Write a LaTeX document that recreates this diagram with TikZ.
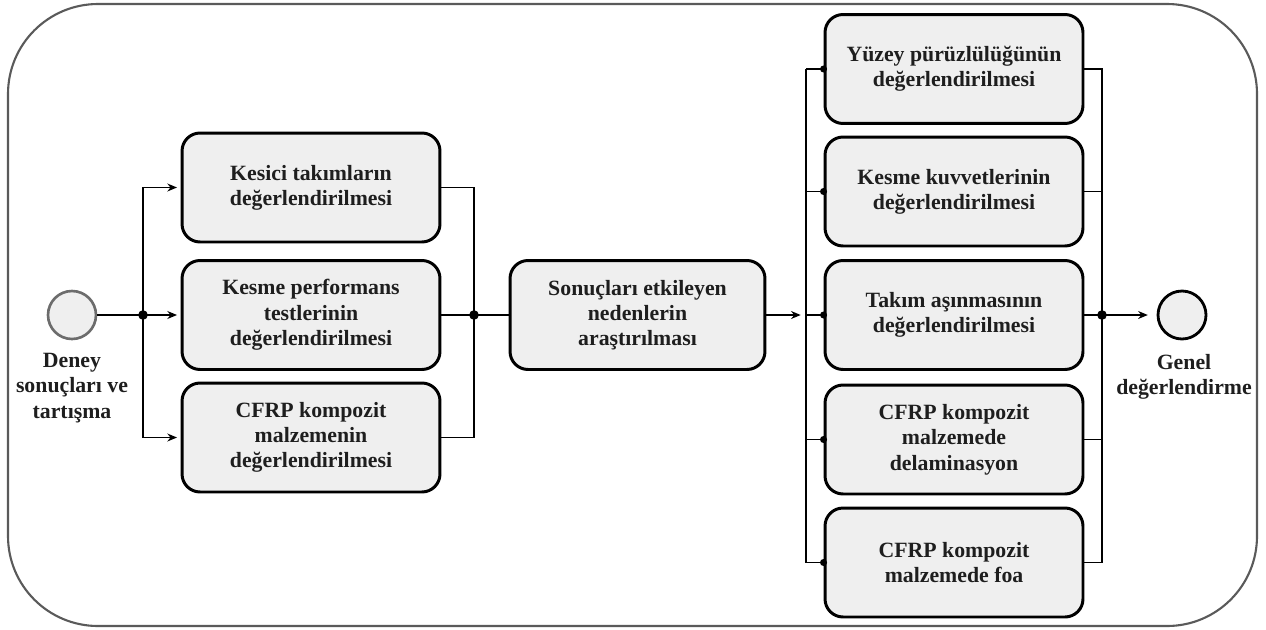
\documentclass[tikz,border=0pt]{standalone}
\usepackage{fontspec}
\setmainfont{Liberation Serif}[BoldFont={Liberation Serif Bold}]
\newfontfamily\tnrb{Liberation Serif Bold}
\usetikzlibrary{arrows.meta}
\definecolor{boxfill}{HTML}{EFEFEF}
\definecolor{framegray}{HTML}{5A5A5A}
\definecolor{txt}{HTML}{1E1E1E}
\tikzset{
  pbox/.style={draw=black, line width=1.7pt, fill=boxfill, rounded corners=0.36cm,
    minimum width=5.16cm, minimum height=2.18cm, align=center, text=txt,
    font=\tnrb\fontsize{12.4}{14.4}\selectfont, inner sep=0pt},
  conn/.style={draw=black, line width=0.85pt},
  arr/.style={conn, -{Stealth[length=5.5pt,width=4.5pt]}},
  jdot/.style={circle, fill=black, inner sep=0pt, minimum size=5.5pt},
  sdot/.style={circle, fill=black, inner sep=0pt, minimum size=4pt},
  lbl/.style={align=center, text=txt, font=\tnrb\fontsize{12.4}{14.4}\selectfont, inner sep=0pt},
}
\begin{document}
\begin{tikzpicture}[x=0.02cm, y=-0.02cm]
\useasboundingbox (0,0) rectangle (1266,629);
% outer frame
\draw[framegray, line width=1.2pt, rounded corners=1.8cm] (8,4) rectangle (1257,626);

% start / end events
\node[circle, draw=gray!85!black, line width=1.5pt, fill=boxfill, minimum size=0.96cm, inner sep=0pt] (start) at (72,315) {};
\node[lbl, anchor=north] (startlbl) at (72,353) {Deney\\sonuçları ve\\tartışma};
\node[circle, draw=black, line width=1.6pt, fill=boxfill, minimum size=0.96cm, inner sep=0pt] (end) at (1182,315) {};
\node[lbl, anchor=north] (endlbl) at (1184,354) {Genel\\değerlendirme};

% left column
\node[pbox] (k1) at (311,187.5) {Kesici takımların\\değerlendirilmesi};
\node[pbox] (k2) at (311,315) {Kesme performans\\testlerinin\\değerlendirilmesi};
\node[pbox] (k3) at (311,437.5) {CFRP kompozit\\malzemenin\\değerlendirilmesi};

% middle
\node[pbox, minimum width=5.1cm] (mid) at (637.5,315) {Sonuçları etkileyen\\nedenlerin\\araştırılması};

% right column
\node[pbox] (r1) at (954,69) {Yüzey pürüzlülüğünün\\değerlendirilmesi};
\node[pbox] (r2) at (954,191.5) {Kesme kuvvetlerinin\\değerlendirilmesi};
\node[pbox] (r3) at (954,315) {Takım aşınmasının\\değerlendirilmesi};
\node[pbox] (r4) at (954,439.5) {CFRP kompozit\\malzemede\\delaminasyon};
\node[pbox] (r5) at (954,562.5) {CFRP kompozit\\malzemede foa};

% junction coordinates
\coordinate (jl) at (143,315);
\coordinate (jm) at (474,315);
\coordinate (jr) at (806,315);
\coordinate (je) at (1102,315);

% split from start
\draw[conn] (start.east) -- (jl);
\draw[arr] (jl) |- ([xshift=-2pt]k1.west);
\draw[arr] (jl) -- ([xshift=-2pt]k2.west);
\draw[arr] (jl) |- ([xshift=-2pt]k3.west);
\node[jdot] at (jl) {};

% merge into middle
\draw[conn] (k1.east) -| (jm);
\draw[conn] (k3.east) -| (jm);
\draw[conn] (k2.east) -- (jm) -- (mid.west);
\node[jdot] at (jm) {};

% middle to right column
\draw[arr] (mid.east) -- ([xshift=-3pt]jr);
\coordinate (rtop) at (806,69);
\coordinate (rbot) at (806,562.5);
\draw[conn] (rtop) -- (rbot);
\draw[conn] (rtop) -- (r1.west);
\draw[conn] (806,191.5) -- (r2.west);
\draw[conn] (jr) -- (r3.west);
\draw[conn] (806,439.5) -- (r4.west);
\draw[conn] (rbot) -- (r5.west);
\foreach \n in {r1,r2,r3,r4,r5} \node[sdot] at (\n.west) {};

% merge to end
\draw[conn] (r1.east) -| (je);
\draw[conn] (r5.east) -| (je);
\draw[conn] (r2.east) -- (r2.east -| je);
\draw[conn] (r4.east) -- (r4.east -| je);
\draw[conn] (r3.east) -- (je);
\draw[arr] (je) -- ([xshift=-5pt]end.west);
\node[jdot] at (je) {};
\end{tikzpicture}
\end{document}
